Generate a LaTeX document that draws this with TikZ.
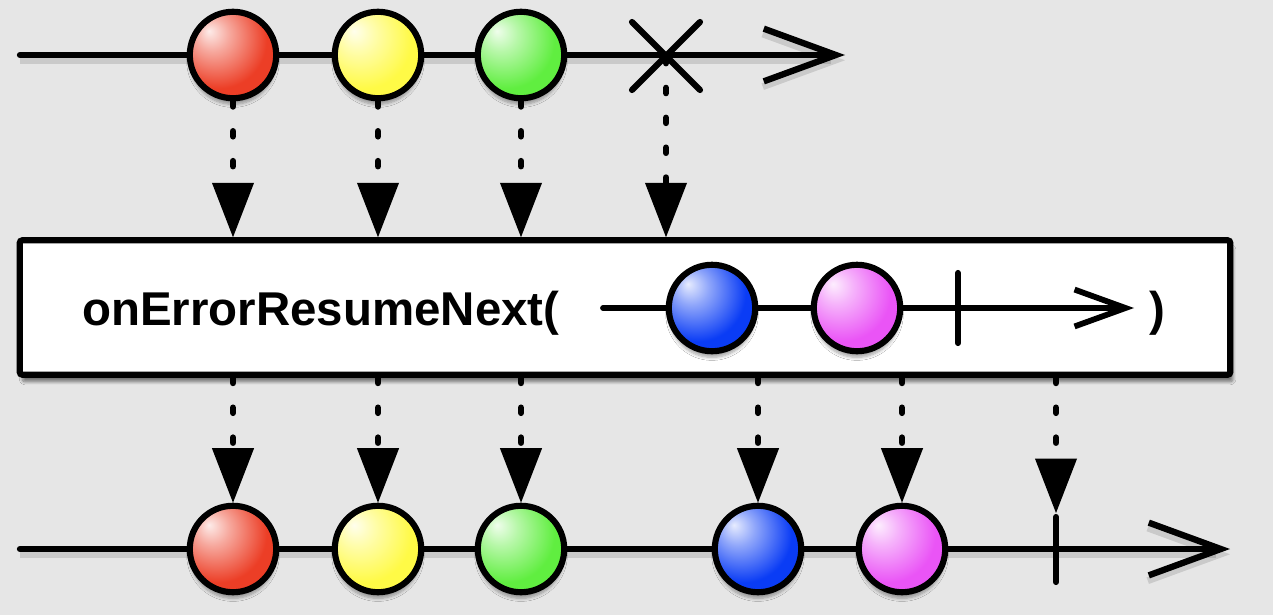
\documentclass[tikz,border=0pt]{standalone}
\usepackage{fontspec}
\newfontfamily\opfont{Liberation Sans}
\usetikzlibrary{arrows.meta,calc,shadows.blur}

% glossy marble: light spot upper left, dark rim lower right
\pgfdeclareradialshading[ballc]{sphere}{\pgfpoint{-14bp}{14bp}}{%
  color(0bp)=(ballc!10!white); color(10bp)=(ballc!45!white);
  color(28bp)=(ballc); color(52bp)=(ballc); color(72bp)=(ballc!50!black)}

\definecolor{bg}{RGB}{230,230,230}
\definecolor{mred}{RGB}{236,62,38}
\definecolor{myellow}{RGB}{255,250,70}
\definecolor{mgreen}{RGB}{96,238,64}
\definecolor{mblue}{RGB}{10,60,245}
\definecolor{mpink}{RGB}{234,84,246}

\tikzset{
  timeline/.style={line width=3.6pt, line cap=round, -{Straight Barb[length=41pt,width=30pt]},
    preaction={draw, line width=4pt, black, opacity=0.12, transform canvas={yshift=-3pt}}},
  innerline/.style={line width=3.3pt, line cap=round, -{Straight Barb[length=29pt,width=21pt]}},
  marble/.style={circle, draw, line width=3.5pt, minimum size=49.2pt, inner sep=0pt,
    /utils/exec={\colorlet{ballc}{#1}}, shading=sphere,
    blur shadow={shadow xshift=0pt, shadow yshift=-3.5pt, shadow blur steps=6, shadow opacity=35}},
  flow/.style={line width=3.6pt, line cap=round, dash pattern=on 3pt off 14pt,
    -{Triangle[length=31pt,width=24pt,line width=0pt]}},
  stopmark/.style={line width=3.5pt, line cap=round},
  opbox/.style={draw, fill=white, line width=3.5pt, rounded corners=1.5pt,
    minimum width=689pt, minimum height=76.5pt,
    blur shadow={shadow xshift=1.5pt, shadow yshift=-4pt, shadow blur steps=8, shadow opacity=50}},
  oplabel/.style={font=\opfont\bfseries\fontsize{27}{30}\selectfont, inner sep=0pt}
}

\begin{document}
\begin{tikzpicture}[x=0.02cm, y=-0.02cm]
    \fill[bg] (0,0) rectangle (1273,615);
    \useasboundingbox (0,0) rectangle (1273,615);

    % Source timeline, ends with an error
    \coordinate (srcstart) at (20,55);
    \coordinate (srcend) at (845,55);
    \coordinate (err) at (666,55);
    \draw[timeline] (srcstart) -- (srcend);
    \node[marble=mred] (s1) at (233,55) {};
    \node[marble=myellow] (s2) at (378,55) {};
    \node[marble=mgreen] (s3) at (521,55) {};
    \draw[stopmark] ($(err)+(-34,-33)$) -- ($(err)+(34,35)$);
    \draw[stopmark] ($(err)+(34,-33)$) -- ($(err)+(-34,35)$);

    % Operator box
    \node[opbox] (op) at (625,307.5) {};
    \node[oplabel, anchor=base west] (opname) at (82,325) {onErrorResumeNext(};
    \node[oplabel, anchor=base west] (opclose) at (1149,325) {)};

    % Resume sequence inside the box
    \coordinate (resstart) at (603,308);
    \coordinate (resend) at (1134,308);
    \coordinate (resstop) at (958,308);
    \draw[innerline] (resstart) -- (resend);
    \node[marble=mblue] (r1) at (712,308) {};
    \node[marble=mpink] (r2) at (857,308) {};
    \draw[stopmark] ($(resstop)+(0,-35)$) -- ($(resstop)+(0,35)$);

    % Result timeline
    \coordinate (outstart) at (20,549);
    \coordinate (outend) at (1230,549);
    \coordinate (outstop) at (1056,549);
    \draw[timeline] (outstart) -- (outend);
    \node[marble=mred] (o1) at (233,549) {};
    \node[marble=myellow] (o2) at (378,549) {};
    \node[marble=mgreen] (o3) at (521,549) {};
    \node[marble=mblue] (o4) at (758,549) {};
    \node[marble=mpink] (o5) at (902,549) {};
    \coordinate (stoptop) at (1056,513);
    \draw[stopmark] (1056,517) -- (1056,582);

    % Emissions into the operator
    \draw[flow] (s1.south) -- (s1.south |- op.north);
    \draw[flow] (s2.south) -- (s2.south |- op.north);
    \draw[flow] (s3.south) -- (s3.south |- op.north);
    \draw[flow] ($(err)+(0,3)$) -- (err |- op.north);

    % Emissions out of the operator
    \draw[flow] (op.south -| o1) -- (o1.north);
    \draw[flow] (op.south -| o2) -- (o2.north);
    \draw[flow] (op.south -| o3) -- (o3.north);
    \draw[flow] (op.south -| o4) -- (o4.north);
    \draw[flow] (op.south -| o5) -- (o5.north);
    \draw[flow] (op.south -| stoptop) -- (stoptop);
\end{tikzpicture}
\end{document}
